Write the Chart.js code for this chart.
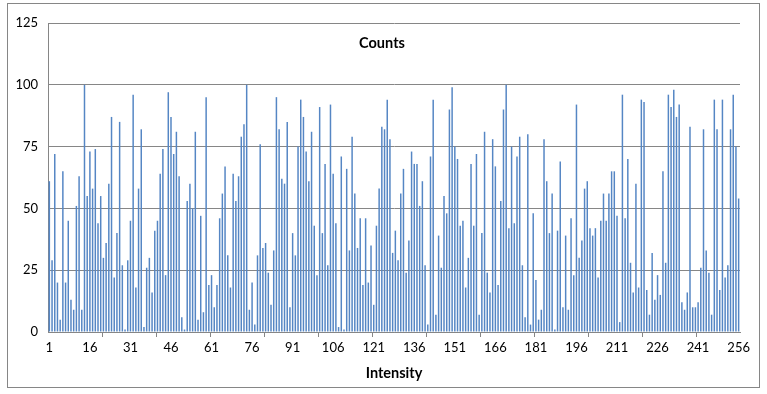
<!DOCTYPE html>
<html>
<head>
<meta charset="utf-8">
<script src="https://cdn.jsdelivr.net/npm/chart.js@4"></script>
<style>
  html, body { margin: 0; padding: 0; background: #fff; }
  body { width: 767px; height: 394px; position: relative; overflow: hidden; }
  #box { position: absolute; left: 7px; top: 3px; width: 751px; height: 383px; border: 1px solid #868686; }
  canvas { display: block; }
</style>
</head>
<body>
<div id="box"><canvas id="chart" width="751" height="383"></canvas></div>
<script>
// Valores (contagem por intensidade 1..256)
const counts = [
    61, 29, 72, 20, 5, 65, 20, 45, 13, 9, 51, 63, 9, 100, 55, 73,
    58, 74, 44, 55, 30, 36, 60, 87, 22, 40, 85, 27, 1, 29, 45, 96,
    18, 58, 82, 2, 26, 30, 16, 41, 45, 64, 74, 23, 97, 87, 72, 81,
    63, 6, 1, 53, 60, 50, 81, 5, 47, 8, 95, 19, 23, 10, 19, 46,
    56, 67, 31, 18, 64, 53, 63, 79, 84, 100, 9, 20, 3, 31, 76, 34,
    36, 24, 11, 33, 95, 82, 62, 60, 85, 10, 40, 31, 75, 94, 87, 73,
    61, 81, 43, 23, 91, 40, 68, 27, 92, 64, 44, 2, 71, 1, 66, 33,
    79, 56, 34, 46, 19, 46, 20, 35, 11, 43, 58, 83, 82, 94, 78, 32,
    41, 29, 56, 66, 24, 37, 73, 68, 68, 51, 61, 27, 3, 71, 94, 7,
    39, 26, 55, 48, 90, 99, 75, 70, 43, 45, 18, 30, 68, 43, 72, 7,
    40, 81, 24, 16, 78, 67, 19, 53, 90, 100, 42, 75, 44, 71, 79, 27,
    6, 80, 3, 48, 21, 5, 9, 78, 61, 40, 56, 1, 41, 69, 10, 39,
    9, 46, 23, 92, 30, 37, 58, 61, 42, 39, 42, 22, 45, 56, 45, 56,
    65, 65, 47, 4, 96, 46, 70, 28, 16, 60, 18, 94, 93, 17, 7, 32,
    13, 23, 15, 65, 28, 96, 91, 98, 87, 92, 12, 9, 16, 83, 10, 10,
    12, 26, 82, 33, 24, 7, 94, 82, 17, 94, 22, 27, 82, 96, 75, 54
];

// Categorias: intensidades 1 a 256
const intensities = counts.map((_, i) => String(i + 1));

// Rótulos visíveis no eixo x e no eixo y
const xTickLabels = ['1', '16', '31', '46', '61', '76', '91', '106', '121', '136', '151', '166', '181', '196', '211', '226', '241', '256'];
const yTicks = [0, 25, 50, 75, 100, 125];

const gridColor = '#868686';
const font = { family: 'Lato, "Liberation Sans", sans-serif', size: 13 };

// Título "Counts" desenhado dentro da área do gráfico
const innerTitle = {
    id: 'innerTitle',
    afterDraw(chart) {
        const ctx = chart.ctx;
        ctx.save();
        ctx.font = 'bold 14.5px Lato, "Liberation Sans", sans-serif';
        ctx.fillStyle = '#000';
        ctx.textAlign = 'center';
        ctx.textBaseline = 'middle';
        ctx.fillText('Counts', 374, 39);
        ctx.restore();
    }
};

new Chart(document.getElementById('chart').getContext('2d'), {
    type: 'bar',
    data: {
        labels: intensities,
        datasets: [{
            label: 'Counts',
            data: counts,
            backgroundColor: '#5586c4',
            barPercentage: 0.55,
            categoryPercentage: 1.0
        }]
    },
    options: {
        responsive: false,
        animation: false,
        layout: { padding: { top: 19, right: 19, left: 0, bottom: 0 } },
        plugins: {
            legend: { display: false },
            tooltip: { enabled: false }
        },
        scales: {
            x: {
                grid: {
                    offset: true,
                    drawOnChartArea: false,
                    tickLength: 5,
                    color: (c) => (c.index > 0 && c.index % 20 === 0) ? gridColor : 'rgba(0,0,0,0)'
                },
                border: { color: gridColor },
                ticks: {
                    autoSkip: false,
                    maxRotation: 0,
                    minRotation: 0,
                    padding: 3,
                    color: '#000',
                    font: font,
                    callback: function (value) {
                        const lbl = this.getLabelForValue(value);
                        return xTickLabels.includes(lbl) ? lbl : '';
                    }
                },
                title: {
                    display: true,
                    text: 'Intensity',
                    color: '#000',
                    font: { family: font.family, size: 14.5, weight: 'bold' },
                    padding: { top: 0, bottom: 5 }
                },
                afterFit: (scale) => { scale.height = 55; }
            },
            y: {
                min: 0,
                max: 125,
                afterBuildTicks: (scale) => { scale.ticks = yTicks.map(v => ({ value: v })); },
                grid: { color: gridColor, drawTicks: false },
                border: { color: gridColor },
                ticks: { padding: 10, color: '#000', font: font },
                afterFit: (scale) => { scale.width = 40; }
            }
        }
    },
    plugins: [innerTitle]
});
</script>
</body>
</html>
